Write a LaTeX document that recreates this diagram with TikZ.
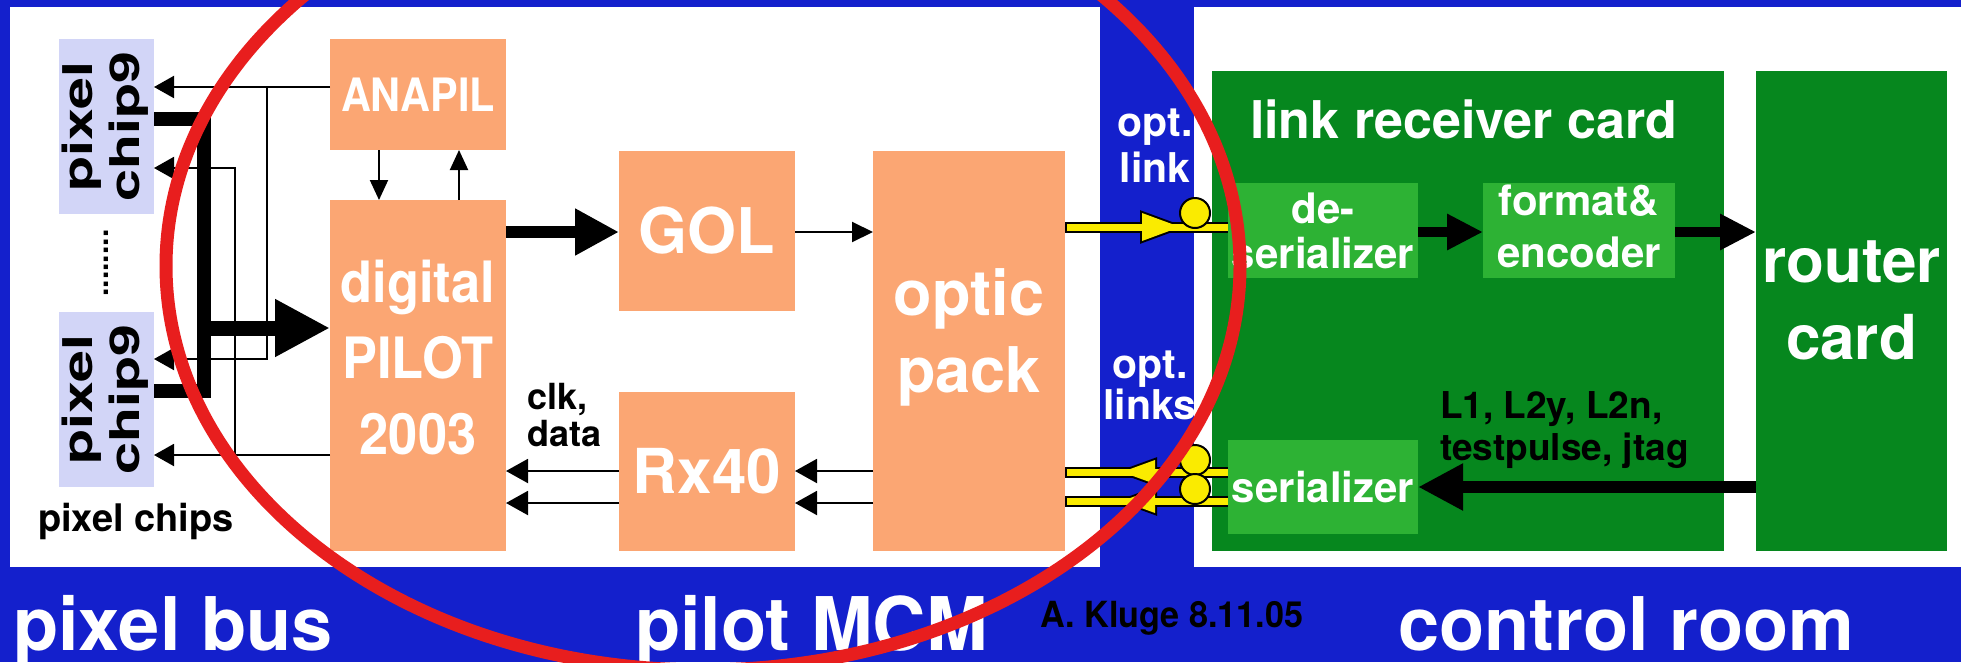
\documentclass[tikz,border=0pt]{standalone}
\usepackage{fontspec}
\setmainfont{TeX Gyre Heros}
\usetikzlibrary{arrows.meta}
\definecolor{bgblue}{RGB}{20,32,204}
\definecolor{orng}{RGB}{251,166,115}
\definecolor{lav}{RGB}{210,213,247}
\definecolor{dgreen}{RGB}{6,135,30}
\definecolor{lgreen}{RGB}{45,178,52}
\definecolor{ylw}{RGB}{250,235,0}
\definecolor{redc}{RGB}{232,30,30}
\newcommand{\FS}[2]{\fontsize{#1}{#2}\selectfont\bfseries}
\newcommand{\hs}[2]{\scalebox{#1}[1]{#2}}
\begin{document}
\begin{tikzpicture}[x=1pt,y=-1pt,
  every node/.style={inner sep=0pt,outer sep=0pt},
  box/.style={rectangle,anchor=north west,align=center,text=white},
  obox/.style={box,fill=orng},
  cbox/.style={box,fill=lav,text=black},
  gbox/.style={box,fill=dgreen},
  lbox/.style={box,fill=lgreen},
  tarrow/.style={line width=2pt,-{Triangle[length=20pt,width=22pt]}},
  sarrow/.style={line width=2pt,-{Triangle[length=20pt,width=18pt]}},
  barrow/.style={line width=2pt,-{Triangle[length=22pt,width=24pt]}},
  garrow/.style={line width=10pt,-{Triangle[length=36pt,width=34pt]}},
  ylink/.style={line width=11pt},
  ylinkin/.style={ylw,line width=7pt},
  ytip/.style={line width=4pt,line join=miter},
  ycirc/.style={fill=ylw,draw=black,line width=2pt}
]
\useasboundingbox (0,0) rectangle (1961,662);
\clip (0,0) rectangle (1961,662);
% backgrounds
\fill[bgblue] (0,0) rectangle (1961,662);
\fill[white] (10,7) rectangle (1100,567);
\fill[white] (1194,7) rectangle (1961,567);

% pixel chips
\node[cbox,minimum width=95pt,minimum height=175pt] (chipA) at (59,39)
  {\rotatebox{90}{\FS{41}{47}\begin{tabular}{@{}c@{}}\hs{1.4}{pixel}\\\hs{1.4}{chip9}\end{tabular}}};
\node[cbox,minimum width=95pt,minimum height=175pt] (chipB) at (59,312)
  {\rotatebox{90}{\FS{41}{47}\begin{tabular}{@{}c@{}}\hs{1.4}{pixel}\\\hs{1.4}{chip9}\end{tabular}}};
\node[rotate=90,font=\FS{30}{30}] (dots) at (106,263) {........};
\node[anchor=base west,font=\FS{38}{44}] (pchips) at (38,531) {pixel chips};

% MCM boxes
\node[obox,minimum width=176pt,minimum height=111pt,font=\FS{46}{50}] (anapil) at (330,39) {\hs{0.9}{ANAPIL}};
\node[obox,minimum width=176pt,minimum height=351pt,font=\FS{57}{76},text depth=36pt] (pilot) at (330,200)
  {\hs{0.92}{digital}\\\hs{0.92}{PILOT}\\\hs{0.92}{2003}};
\node[obox,minimum width=176pt,minimum height=160pt,font=\FS{63}{70}] (gol) at (619,151) {GOL};
\node[obox,minimum width=176pt,minimum height=159pt,font=\FS{62}{70}] (rx) at (619,392) {Rx40};
\node[obox,minimum width=192pt,minimum height=400pt,font=\FS{63}{77},text depth=40pt] (optic) at (873,151) {optic\\pack};
\node[anchor=west,align=left,font=\FS{36}{37}] (clk) at (527,415.5) {clk,\\data};

% control room boxes
\node[gbox,minimum width=512pt,minimum height=480pt] (lrc) at (1212,71) {};
\node[anchor=base west,text=white,font=\FS{52}{60}] (lrctitle) at (1250,138) {link receiver card};
\node[lbox,minimum width=190pt,minimum height=95pt,font=\FS{42}{45}] (deser) at (1228,183) {de-\\serializer};
\node[lbox,minimum width=192pt,minimum height=95pt,font=\FS{42}{52},text depth=9pt] (fmt) at (1483,183) {format\&\\encoder};
\node[lbox,minimum width=190pt,minimum height=94pt,font=\FS{42}{45}] (ser) at (1228,440) {serializer};
\node[gbox,minimum width=191pt,minimum height=480pt,font=\FS{62}{77},text depth=22pt] (router) at (1756,71) {router\\card};
\node[anchor=west,align=left,font=\FS{37}{42}] (trig) at (1440,429.6) {L1, L2y, L2n,\\testpulse, jtag};

% opt. link labels
\node[align=center,text=white,font=\FS{41}{46}] (ol1) at (1155,146) {opt.\\link};
\node[align=center,text=white,font=\FS{41}{35}] (ol2) at (1150,385.5) {opt.\\links};

% pixel bus connectors
\draw[line width=14pt] (chipA.east |- 0,119) -- (204,119) -- (204,391) -- (chipB.east |- 0,391);
\coordinate (j3) at (204,328);
\draw[line width=15pt,-{Triangle[length=55pt,width=54pt]}] (j3) -- (pilot.west |- 0,328);
\draw[tarrow] (anapil.west |- 0,87) -- (chipA.east |- 0,87);
\coordinate (j1) at (267,87);
\draw[tarrow] (j1) -- (267,359) -- (chipB.east |- 0,359);
\draw[tarrow] (pilot.west |- 0,455) -- (chipB.east |- 0,455);
\coordinate (j2) at (235,455);
\draw[tarrow] (j2) -- (235,168) -- (chipA.east |- 0,168);

% MCM connectors
\draw[sarrow] (anapil.south -| 379,0) -- (pilot.north -| 379,0);
\draw[sarrow] (pilot.north -| 459,0) -- (anapil.south -| 459,0);
\draw[line width=12pt,-{Triangle[length=44pt,width=44pt]}] (pilot.east |- 0,232) -- (gol.west |- 0,232);
\draw[line width=2pt,-{Triangle[length=21pt,width=20pt]}] (gol.east |- 0,232) -- (optic.west |- 0,232);
\draw[barrow] (rx.west |- 0,471) -- (pilot.east |- 0,471);
\draw[barrow] (rx.west |- 0,503) -- (pilot.east |- 0,503);
\draw[barrow] (optic.west |- 0,471) -- (rx.east |- 0,471);
\draw[barrow] (optic.west |- 0,503) -- (rx.east |- 0,503);

% control room connectors
\draw[garrow] (deser.east |- 0,232) -- (fmt.west |- 0,232);
\draw[garrow] (fmt.east |- 0,232) -- (router.west |- 0,232);
\draw[line width=12pt,-{Triangle[length=45pt,width=44pt]}] (router.west |- 0,487) -- (ser.east |- 0,487);

% optical links (yellow)
\draw[ylink] (optic.east |- 0,227) -- (deser.west |- 0,227);
\draw[ylink] (optic.east |- 0,472) -- (ser.west |- 0,472);
\draw[ylink] (optic.east |- 0,501) -- (ser.west |- 0,501);
\draw[ytip] (1142,213) -- (1180,227) -- (1142,241) -- cycle;
\draw[ytip] (1155,460) -- (1122,472) -- (1155,484) -- cycle;
\draw[ytip] (1155,489) -- (1122,501) -- (1155,513) -- cycle;
\draw[ylinkin,shorten <=2pt] (optic.east |- 0,227) -- (deser.west |- 0,227);
\draw[ylinkin,shorten <=2pt] (optic.east |- 0,472) -- (ser.west |- 0,472);
\draw[ylinkin,shorten <=2pt] (optic.east |- 0,501) -- (ser.west |- 0,501);
\fill[ylw] (1142,213) -- (1180,227) -- (1142,241) -- cycle;
\fill[ylw] (1155,460) -- (1122,472) -- (1155,484) -- cycle;
\fill[ylw] (1155,489) -- (1122,501) -- (1155,513) -- cycle;
\draw[ycirc] (1195,213) circle[radius=15pt];
\draw[ycirc] (1195,460) circle[radius=15pt];
\draw[ycirc] (1195,489) circle[radius=15pt];

% bottom captions
\node[anchor=base west,text=white,font=\FS{74}{80}] (cap1) at (13,650) {pixel bus};
\node[anchor=base west,text=white,font=\FS{74}{80}] (cap2) at (635,650) {pilot MCM};
\node[anchor=base west,text=white,font=\FS{74}{80}] (cap3) at (1398,650) {control room};
\node[anchor=base west,text=black,font=\FS{36}{40}] (auth) at (1040,627) {\hs{0.95}{A. Kluge 8.11.05}};

% red ellipse
\draw[redc,line width=13pt] (703,266) ellipse [x radius=537pt, y radius=404pt];
\end{tikzpicture}
\end{document}
